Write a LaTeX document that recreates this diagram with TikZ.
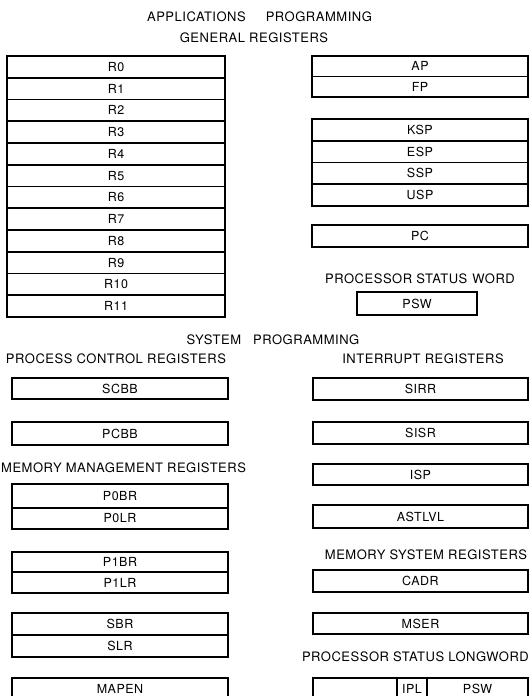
\documentclass[tikz,border=0pt]{standalone}
\usepackage{fontspec}
\setmainfont{TeX Gyre Heros}[LetterSpace=4]
\usepackage{tikz}

\begin{document}
\begin{tikzpicture}[x=1pt,y=-1pt,
  reg/.style={draw,line width=1.6pt,inner sep=0pt,font=\fontsize{12.5}{13}\selectfont},
  lreg/.style={reg,minimum width=216pt},
  rreg/.style={reg,minimum width=215pt},
  head/.style={inner sep=0pt,font=\fontsize{13}{14}\selectfont}]
\useasboundingbox (0,0) rectangle (530,696);
\clip (0,0) rectangle (530,696);
% headings
\node[head] (apphead) at (259.5,17) {APPLICATIONS\hspace{20pt}PROGRAMMING};
\node[head] (genhead) at (254,38) {GENERAL REGISTERS};
\node[head] (syshead) at (273,340) {SYSTEM\hspace{12pt}PROGRAMMING};
\node[head] (pcrhead) at (116,359) {PROCESS CONTROL REGISTERS};
\node[head,anchor=west] (mmrhead) at (1,468) {MEMORY MANAGEMENT\hspace{4pt}REGISTERS};
\node[head] (irhead) at (423,359) {INTERRUPT REGISTERS};
\node[head] (msrhead) at (426,555) {MEMORY SYSTEM REGISTERS};
\node[head] (pswhead) at (420,279) {PROCESSOR STATUS\hspace{5pt}WORD};
\node[head,anchor=east] (pslhead) at (529,657) {PROCESSOR STATUS LONGWORD};
% general registers
\foreach \i in {0,...,11}
  \node[reg,minimum width=218pt,minimum height=21.75pt] (r\i) at (116,{56+21.75*(\i+0.5)}) {R\i};
% AP, FP
\node[reg,minimum width=216pt,minimum height=20.5pt] (ap) at (420,66.25) {AP};
\node[reg,minimum width=216pt,minimum height=20.5pt] (fp) at (420,86.75) {FP};
% stack pointers
\foreach \n [count=\k from 0] in {KSP,ESP,SSP,USP}
  \node[reg,minimum width=216pt,minimum height=21.75pt] (sp\k) at (420,{119+21.75*(\k+0.5)}) {\n};
\node[reg,minimum width=216pt,minimum height=22pt] (pc) at (420,236) {PC};
\node[reg,minimum width=120pt,minimum height=23pt] (psw) at (417,303.5) {PSW};
% process control registers
\node[lreg,minimum height=21pt] (scbb) at (120,388.5) {SCBB};
\node[lreg,minimum height=23pt] (pcbb) at (120,433.5) {PCBB};
% memory management registers
\node[lreg,minimum height=24pt] (p0br) at (120,496) {P0BR};
\node[lreg,minimum height=21pt] (p0lr) at (120,518.5) {P0LR};
\node[lreg,minimum height=20pt] (p1br) at (120,562) {P1BR};
\node[lreg,minimum height=21pt] (p1lr) at (120,582.5) {P1LR};
\node[lreg,minimum height=22pt] (sbr) at (120,624) {SBR};
\node[lreg,minimum height=22pt] (slr) at (120,646) {SLR};
\node[lreg,minimum height=22pt] (mapen) at (120,689) {MAPEN};
% interrupt registers
\node[rreg,minimum height=22pt] (sirr) at (420.5,389) {SIRR};
\node[rreg,minimum height=22pt] (sisr) at (420.5,433) {SISR};
\node[rreg,minimum height=21pt] (isp) at (420.5,474.5) {ISP};
\node[rreg,minimum height=23pt] (astlvl) at (420.5,516.5) {ASTLVL};
% memory system registers
\node[rreg,minimum height=22pt] (cadr) at (420.5,581) {CADR};
\node[rreg,minimum height=21pt] (mser) at (420.5,623.5) {MSER};
% processor status longword
\node[reg,minimum width=84pt,minimum height=22pt] (psla) at (355,689) {};
\node[reg,minimum width=30pt,minimum height=22pt] (pslipl) at (412,689) {IPL};
\node[reg,minimum width=101pt,minimum height=22pt] (pslpsw) at (477.5,689) {PSW};
\end{tikzpicture}
\end{document}
